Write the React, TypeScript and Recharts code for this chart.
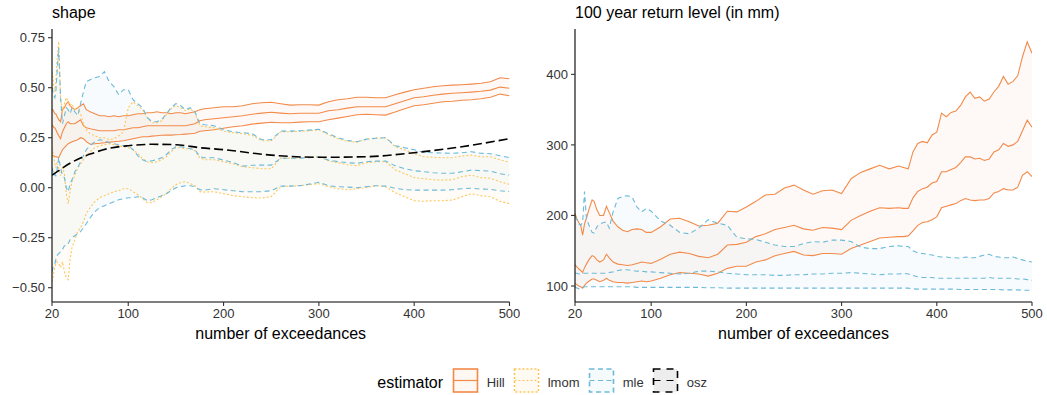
import React from 'react';
import { ComposedChart, Area, Line, XAxis, YAxis } from 'recharts';

const HILL = '#F28A4A';
const LMOM = '#FEC65A';
const MLE = '#6CBAD8';
const OSZ = '#000000';
const FONT = '"Liberation Sans", Arial, Helvetica, sans-serif';
const BAND_ALPHA = 0.05;

// ---- shape panel ----
const shapeN = [
  20, 21, 22, 23, 24, 25, 27, 29, 31, 33,
  35, 37, 39, 41, 44, 47, 50, 53, 56, 60,
  65, 70, 75, 80, 85, 90, 95, 100, 105, 110,
  115, 120, 125, 130, 135, 140, 145, 150, 155, 160,
  165, 170, 175, 180, 190, 200, 210, 220, 230, 240,
  250, 260, 270, 280, 290, 300, 310, 320, 330, 340,
  350, 360, 370, 380, 390, 400, 410, 420, 430, 440,
  450, 460, 470, 480, 490, 500,
];
const shapeHillHi = [
  0.39, 0.39, 0.38, 0.37, 0.37, 0.36, 0.34, 0.33, 0.39, 0.40,
  0.42, 0.43, 0.41, 0.40, 0.39, 0.40, 0.41, 0.42, 0.39, 0.38,
  0.37, 0.36, 0.36, 0.355, 0.36, 0.355, 0.36, 0.36, 0.365, 0.37,
  0.37, 0.375, 0.375, 0.38, 0.375, 0.375, 0.37, 0.375, 0.375, 0.37,
  0.375, 0.38, 0.39, 0.395, 0.40, 0.405, 0.405, 0.41, 0.42, 0.425,
  0.427, 0.42, 0.413, 0.415, 0.415, 0.413, 0.43, 0.44, 0.445, 0.452,
  0.452, 0.45, 0.45, 0.465, 0.478, 0.49, 0.497, 0.505, 0.51, 0.513,
  0.515, 0.518, 0.522, 0.53, 0.55, 0.545,
];
const shapeHillMid = [
  0.31, 0.31, 0.30, 0.30, 0.29, 0.28, 0.26, 0.245, 0.28, 0.30,
  0.32, 0.33, 0.32, 0.32, 0.32, 0.33, 0.34, 0.31, 0.30, 0.295,
  0.29, 0.285, 0.285, 0.285, 0.285, 0.29, 0.29, 0.295, 0.30, 0.30,
  0.305, 0.31, 0.31, 0.31, 0.31, 0.31, 0.31, 0.31, 0.31, 0.31,
  0.315, 0.32, 0.335, 0.34, 0.345, 0.35, 0.355, 0.36, 0.367, 0.373,
  0.377, 0.373, 0.37, 0.372, 0.372, 0.372, 0.385, 0.39, 0.398, 0.405,
  0.405, 0.405, 0.405, 0.42, 0.435, 0.45, 0.455, 0.462, 0.468, 0.472,
  0.475, 0.478, 0.482, 0.488, 0.503, 0.497,
];
const shapeHillLo = [
  0.16, 0.16, 0.16, 0.155, 0.155, 0.155, 0.15, 0.17, 0.19, 0.20,
  0.21, 0.22, 0.225, 0.23, 0.235, 0.24, 0.25, 0.245, 0.23, 0.217,
  0.22, 0.222, 0.225, 0.228, 0.23, 0.232, 0.235, 0.24, 0.245, 0.25,
  0.255, 0.255, 0.258, 0.26, 0.262, 0.263, 0.263, 0.265, 0.266, 0.268,
  0.27, 0.272, 0.282, 0.285, 0.29, 0.297, 0.305, 0.31, 0.318, 0.323,
  0.327, 0.325, 0.325, 0.328, 0.33, 0.33, 0.34, 0.348, 0.356, 0.365,
  0.367, 0.365, 0.363, 0.378, 0.395, 0.41, 0.415, 0.422, 0.43, 0.432,
  0.437, 0.44, 0.445, 0.452, 0.468, 0.46,
];
const shapeMleHi = [
  0.50, 0.48, 0.46, 0.45, 0.48, 0.55, 0.70, 0.45, 0.32, 0.36,
  0.40, 0.39, 0.37, 0.40, 0.38, 0.36, 0.42, 0.48, 0.53, 0.54,
  0.55, 0.556, 0.58, 0.53, 0.505, 0.465, 0.49, 0.49, 0.44, 0.42,
  0.40, 0.35, 0.33, 0.33, 0.34, 0.37, 0.40, 0.42, 0.41, 0.39,
  0.40, 0.38, 0.32, 0.315, 0.31, 0.29, 0.28, 0.275, 0.27, 0.24,
  0.24, 0.283, 0.283, 0.285, 0.288, 0.292, 0.27, 0.25, 0.237, 0.23,
  0.243, 0.247, 0.25, 0.21, 0.20, 0.19, 0.177, 0.175, 0.173, 0.172,
  0.175, 0.18, 0.172, 0.17, 0.16, 0.15,
];
const shapeMleMid = [
  0.10, 0.08, 0.06, 0.07, 0.06, 0.08, 0.15, 0.10, 0.06, 0.05,
  0.0, -0.02, 0.02, 0.04, 0.08, 0.10, 0.13, 0.16, 0.19, 0.21,
  0.23, 0.24, 0.235, 0.225, 0.22, 0.215, 0.21, 0.21, 0.19, 0.16,
  0.14, 0.13, 0.135, 0.14, 0.15, 0.165, 0.19, 0.205, 0.205, 0.20,
  0.195, 0.19, 0.155, 0.15, 0.15, 0.138, 0.125, 0.108, 0.112, 0.113,
  0.113, 0.147, 0.147, 0.148, 0.15, 0.155, 0.138, 0.13, 0.125, 0.122,
  0.13, 0.133, 0.133, 0.11, 0.095, 0.085, 0.08, 0.075, 0.072, 0.072,
  0.08, 0.088, 0.085, 0.083, 0.07, 0.063,
];
const shapeMleLo = [
  -0.42, -0.40, -0.39, -0.38, -0.36, -0.34, -0.33, -0.32, -0.31, -0.29,
  -0.29, -0.28, -0.26, -0.25, -0.24, -0.23, -0.22, -0.20, -0.18, -0.15,
  -0.12, -0.10, -0.09, -0.08, -0.07, -0.06, -0.055, -0.05, -0.05, -0.045,
  -0.05, -0.065, -0.06, -0.05, -0.04, -0.03, -0.015, 0.0, 0.005, 0.01,
  0.01, 0.005, -0.01, -0.012, -0.005, -0.01, -0.015, -0.02, -0.02, -0.02,
  -0.015, 0.008, 0.008, 0.01, 0.018, 0.027, 0.01, 0.005, 0.003, 0.0,
  0.005, 0.01, 0.008, -0.003, -0.01, -0.012, -0.012, -0.012, -0.012, -0.01,
  -0.005, -0.003, -0.007, -0.008, -0.015, -0.02,
];
const shapeLmomHi = [
  0.58, 0.55, 0.50, 0.48, 0.52, 0.62, 0.73, 0.45, 0.38, 0.42,
  0.45, 0.43, 0.41, 0.42, 0.39, 0.40, 0.37, 0.32, 0.29, 0.27,
  0.26, 0.25, 0.25, 0.24, 0.245, 0.26, 0.28, 0.40, 0.43, 0.41,
  0.39, 0.35, 0.325, 0.325, 0.335, 0.365, 0.395, 0.41, 0.40, 0.385,
  0.395, 0.375, 0.31, 0.305, 0.30, 0.283, 0.275, 0.27, 0.262, 0.235,
  0.235, 0.28, 0.28, 0.282, 0.285, 0.29, 0.265, 0.245, 0.232, 0.228,
  0.243, 0.248, 0.25, 0.205, 0.19, 0.17, 0.155, 0.152, 0.15, 0.15,
  0.158, 0.163, 0.155, 0.155, 0.14, 0.127,
];
const shapeLmomMid = [
  0.20, 0.18, 0.15, 0.12, 0.10, 0.12, 0.10, 0.06, 0.10, 0.07,
  -0.03, -0.08, -0.02, 0.03, 0.06, 0.10, 0.12, 0.14, 0.16, 0.18,
  0.20, 0.21, 0.215, 0.22, 0.215, 0.21, 0.205, 0.20, 0.19, 0.17,
  0.145, 0.13, 0.125, 0.13, 0.14, 0.155, 0.18, 0.20, 0.20, 0.195,
  0.195, 0.185, 0.15, 0.14, 0.14, 0.13, 0.12, 0.105, 0.10, 0.095,
  0.095, 0.148, 0.148, 0.15, 0.152, 0.155, 0.135, 0.125, 0.115, 0.11,
  0.125, 0.13, 0.13, 0.09, 0.07, 0.05, 0.045, 0.04, 0.038, 0.04,
  0.055, 0.063, 0.05, 0.047, 0.03, 0.017,
];
const shapeLmomLo = [
  -0.47, -0.45, -0.42, -0.40, -0.38, -0.37, -0.38, -0.40, -0.37, -0.42,
  -0.45, -0.46, -0.36, -0.30, -0.26, -0.22, -0.20, -0.17, -0.13, -0.10,
  -0.07, -0.05, -0.04, -0.03, -0.02, -0.015, -0.005, -0.005, -0.02, -0.035,
  -0.055, -0.075, -0.075, -0.06, -0.045, -0.03, -0.005, 0.015, 0.025, 0.03,
  0.02, 0.01, -0.02, -0.022, -0.02, -0.03, -0.04, -0.045, -0.05, -0.052,
  -0.045, 0.005, 0.008, 0.01, 0.015, 0.02, 0.005, -0.005, -0.01, -0.005,
  0.0, 0.01, 0.005, -0.025, -0.045, -0.065, -0.068, -0.065, -0.065, -0.062,
  -0.045, -0.03, -0.04, -0.045, -0.068, -0.08,
];
const shapeOszN = [20, 30, 40, 53, 60, 80, 100, 125, 150, 175, 200, 250, 300, 350, 400, 450, 500];
const shapeOsz = [0.063, 0.095, 0.125, 0.155, 0.168, 0.197, 0.21, 0.217, 0.215, 0.2, 0.19, 0.163, 0.152, 0.155, 0.175, 0.205, 0.245];

// ---- 100 year return level panel ----
const rlN = [
  20, 22, 24, 26, 28, 30, 32, 35, 38, 40,
  43, 46, 50, 53, 56, 60, 65, 70, 75, 80,
  85, 90, 95, 100, 110, 120, 130, 140, 150, 160,
  170, 180, 190, 200, 210, 220, 230, 240, 250, 260,
  270, 280, 290, 300, 310, 320, 330, 340, 350, 360,
  365, 370, 375, 380, 385, 390, 395, 400, 405, 410,
  415, 420, 425, 430, 435, 440, 445, 450, 455, 460,
  465, 470, 475, 480, 485, 490, 495, 500,
];
const rlHillHi = [
  203, 195, 190, 186, 172, 188, 196, 210, 222, 220,
  208, 200, 200, 213, 204, 192, 184, 179, 177, 180,
  181, 180, 176, 176, 184, 195, 196, 191, 185, 186,
  189, 206, 205, 212, 220, 229, 230, 239, 243, 236,
  230, 235, 236, 231, 252, 261, 266, 271, 266, 270,
  268, 266, 290, 302, 305, 303, 314, 318, 345, 340,
  346, 348, 356, 368, 375, 366, 368, 362, 365, 375,
  383, 397, 386, 390, 398, 425, 446, 430,
];
const rlHillMid = [
  130, 127, 124, 122, 119, 126, 131, 138, 143, 142,
  137, 134, 137, 145, 140, 134, 131, 130, 129, 130,
  132, 134, 133, 132, 138, 145, 148, 146, 142, 140,
  145, 158, 159, 162, 170, 174, 180, 183, 186, 181,
  179, 183, 182, 180, 193, 200, 206, 211, 210, 211,
  210, 210, 225, 234, 238, 240, 246, 248, 262, 262,
  265, 268, 275, 283, 283, 280, 281, 278, 280, 290,
  293, 302, 298, 300, 305, 320, 335, 325,
];
const rlHillLo = [
  104, 102, 100, 99, 97, 101, 104, 107, 110, 110,
  108, 106, 108, 111, 108, 106, 105, 105, 104, 105,
  106, 107, 106, 107, 111, 116, 119, 118, 117, 114,
  118, 125, 128, 128, 134, 137, 143, 146, 149, 144,
  143, 146, 146, 145, 153, 158, 163, 168, 169, 170,
  170, 171, 178, 186, 190, 191, 194, 198, 211, 213,
  215, 217, 221, 224, 222, 221, 222, 222, 224, 232,
  234, 238, 236, 236, 240, 257, 262, 255,
];
const rlMleHi = [
  199, 194, 188, 186, 190, 234, 196, 185, 176, 175,
  184, 188, 190, 191, 182, 205, 224, 227, 228, 226,
  212, 205, 210, 206, 192, 186, 176, 174, 182, 194,
  189, 186, 169, 167, 166, 162, 158, 156, 156, 160,
  163, 162, 165, 165, 163, 155, 153, 153, 156, 157,
  156, 156, 150, 147, 146, 145, 144, 142, 141, 141,
  140, 140, 139, 141, 140, 140, 142, 144, 145, 142,
  141, 140, 140, 141, 139, 137, 135, 134,
];
const rlMleMid = [
  118, 118, 117, 117, 118, 118, 118, 118, 118, 118,
  118, 118, 118, 118, 119, 120, 122, 123, 123, 122,
  121, 121, 120, 120, 119, 118, 117, 118, 121, 121,
  120, 118, 117, 116, 116, 116, 115, 115, 116, 116,
  117, 117, 118, 118, 119, 118, 117, 116, 117, 117,
  118, 117, 115, 113, 112, 112, 112, 111, 111, 111,
  111, 111, 111, 111, 111, 111, 111, 111, 112, 111,
  111, 111, 111, 111, 110, 110, 109, 108,
];
const rlMleLo = [
  99, 97, 96, 97, 98, 99, 99, 99, 99, 99,
  99, 99, 99, 99, 99, 99, 99, 99, 99, 99,
  98, 98, 98, 98, 98, 98, 98, 98, 98, 97.5,
  97.5, 97, 97, 97, 97, 97, 97, 97, 97, 97,
  97, 97, 97, 97, 97, 97, 97, 97, 97, 97,
  97, 97, 96, 95.5, 95.5, 95.5, 95.5, 95.5, 95.5, 95.5,
  95.5, 95.5, 95, 95, 95, 95, 95, 95, 95, 95,
  95, 94.5, 94.5, 94.5, 94.5, 94, 94, 94,
];

const shapeRows = shapeN.map((x, i) => ({
  x,
  hillLo: shapeHillLo[i], hillMid: shapeHillMid[i], hillHi: shapeHillHi[i],
  lmomLo: shapeLmomLo[i], lmomMid: shapeLmomMid[i], lmomHi: shapeLmomHi[i],
  mleLo: shapeMleLo[i], mleMid: shapeMleMid[i], mleHi: shapeMleHi[i],
  hillBand: [shapeHillLo[i], shapeHillHi[i]],
  lmomBand: [shapeLmomLo[i], shapeLmomHi[i]],
  mleBand: [shapeMleLo[i], shapeMleHi[i]],
}));
const shapeOszRows = shapeOszN.map((x, i) => ({ x, osz: shapeOsz[i] }));

const rlRows = rlN.map((x, i) => ({
  x,
  hillLo: rlHillLo[i], hillMid: rlHillMid[i], hillHi: rlHillHi[i],
  mleLo: rlMleLo[i], mleMid: rlMleMid[i], mleHi: rlMleHi[i],
  hillBand: [rlHillLo[i], rlHillHi[i]],
  mleBand: [rlMleLo[i], rlMleHi[i]],
}));

const tickStyle = { fill: '#333333', fontSize: 13, fontFamily: FONT };
const axisLine = { stroke: '#000000', strokeWidth: 1.1 };
const tickLine = { stroke: '#333333', strokeWidth: 1.1 };

const styles: Record<string, { color: string; dash?: string; width: number }> = {
  hill: { color: HILL, width: 1.1 },
  lmom: { color: LMOM, dash: '2 2', width: 1.1 },
  mle: { color: MLE, dash: '5 3.5', width: 1.1 },
};

function bandLines(est: string) {
  const s = styles[est];
  return ['Lo', 'Mid', 'Hi'].map((k) => (
    <Line
      key={est + k}
      dataKey={est + k}
      type="linear"
      stroke={s.color}
      strokeWidth={s.width}
      strokeDasharray={s.dash}
      dot={false}
      activeDot={false}
      isAnimationActive={false}
    />
  ));
}

function band(est: string, color: string) {
  return (
    <Area
      key={est + 'Band'}
      dataKey={est + 'Band'}
      type="linear"
      fill={color}
      fillOpacity={BAND_ALPHA}
      stroke="none"
      isAnimationActive={false}
    />
  );
}

const xAxis = (
  <XAxis
    dataKey="x"
    type="number"
    domain={[20, 500]}
    ticks={[20, 100, 200, 300, 400, 500]}
    interval={0}
    allowDataOverflow
    height={43}
    tickSize={4}
    tickMargin={3}
    tick={tickStyle}
    axisLine={axisLine}
    tickLine={tickLine}
  />
);

const fmtShape = (v: number) => v.toFixed(2).replace('-', '\u2212');

function ShapePanel() {
  return (
    <ComposedChart width={520} height={345} data={shapeRows} margin={{ top: 29, right: 10.5, bottom: 0, left: 0 }}>
      {xAxis}
      <YAxis
        type="number"
        domain={[-0.5715, 0.7935]}
        ticks={[-0.5, -0.25, 0, 0.25, 0.5, 0.75]}
        tickFormatter={fmtShape}
        interval={0}
        allowDataOverflow
        width={52}
        tickSize={4}
        tickMargin={3}
        tick={tickStyle}
        axisLine={axisLine}
        tickLine={tickLine}
      />
      {band('hill', HILL)}
      {band('lmom', LMOM)}
      {band('mle', MLE)}
      {bandLines('hill')}
      {bandLines('lmom')}
      {bandLines('mle')}
      <Line
        data={shapeOszRows}
        dataKey="osz"
        type="monotone"
        stroke={OSZ}
        strokeWidth={1.6}
        strokeDasharray="9 4"
        dot={false}
        activeDot={false}
        isAnimationActive={false}
      />
    </ComposedChart>
  );
}

function ReturnLevelPanel() {
  return (
    <ComposedChart width={525} height={345} data={rlRows} margin={{ top: 29, right: 15, bottom: 0, left: 0 }}>
      {xAxis}
      <YAxis
        type="number"
        domain={[77.3, 464.3]}
        ticks={[100, 200, 300, 400]}
        interval={0}
        allowDataOverflow
        width={53}
        tickSize={4}
        tickMargin={3}
        tick={tickStyle}
        axisLine={axisLine}
        tickLine={tickLine}
      />
      {band('hill', HILL)}
      {band('mle', MLE)}
      {bandLines('hill')}
      {bandLines('mle')}
    </ComposedChart>
  );
}

const legendKeys = [
  { label: 'Hill', x: 453.5, color: HILL, dash: undefined as string | undefined, fill: HILL },
  { label: 'lmom', x: 514.5, color: LMOM, dash: '2 2', fill: LMOM },
  { label: 'mle', x: 589.5, color: MLE, dash: '5 3.5', fill: MLE },
  { label: 'osz', x: 653.5, color: OSZ, dash: '7 6', fill: '#000000' },
];

function Overlay() {
  return (
    <svg
      width={1047}
      height={395}
      style={{ position: 'absolute', left: 0, top: 0, pointerEvents: 'none', fontFamily: FONT }}
    >
      <text x={52} y={17.5} fontSize={16} fill="#000">shape</text>
      <text x={575} y={17.5} fontSize={16} fill="#000">100 year return level (in mm)</text>
      <text x={280.7} y={339} fontSize={16} fill="#000" textAnchor="middle">number of exceedances</text>
      <text x={803.5} y={339} fontSize={16} fill="#000" textAnchor="middle">number of exceedances</text>

      <text x={377.3} y={387.5} fontSize={16} fill="#000">estimator</text>
      {legendKeys.map((k) => (
        <g key={k.label}>
          <rect
            x={k.x}
            y={369}
            width={24}
            height={23}
            fill={k.fill}
            fillOpacity={0.07}
            stroke={k.color}
            strokeWidth={1.6}
            strokeDasharray={k.dash}
          />
          <line
            x1={k.x}
            x2={k.x + 24}
            y1={380.5}
            y2={380.5}
            stroke={k.color}
            strokeWidth={1.2}
            strokeDasharray={k.dash}
          />
          <text x={k.x + 33.2} y={386.5} fontSize={13} fill="#333">{k.label}</text>
        </g>
      ))}
    </svg>
  );
}

export default function App() {
  return (
    <div style={{ position: 'absolute', left: 0, top: 0, width: 1047, height: 395, background: '#fff', fontFamily: FONT }}>
      <div style={{ position: 'absolute', left: 0, top: 0 }}>
        <ShapePanel />
      </div>
      <div style={{ position: 'absolute', left: 522, top: 0 }}>
        <ReturnLevelPanel />
      </div>
      <Overlay />
    </div>
  );
}
